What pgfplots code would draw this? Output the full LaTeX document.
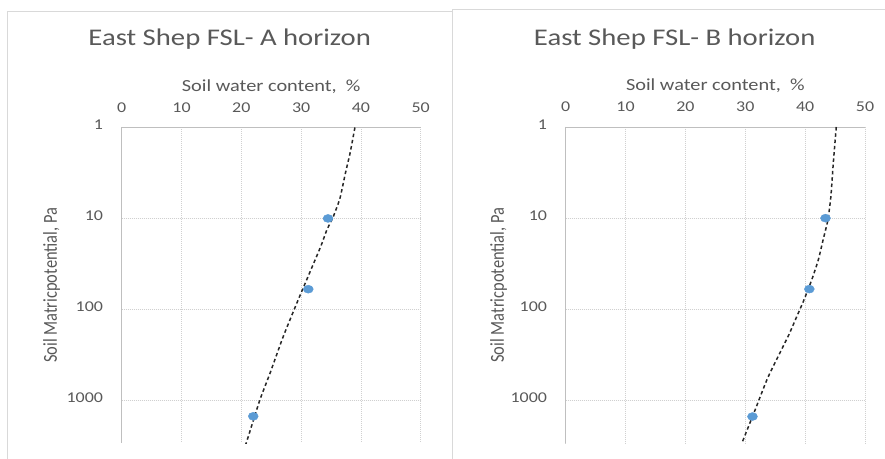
\documentclass[border=0pt]{standalone}
\usepackage{pgfplots}
\pgfplotsset{compat=1.18}
\usepackage{fontspec}
\setmainfont{Carlito}
\newfontfamily\wide{Carlito}[FakeStretch=1.2]
\definecolor{txt}{HTML}{595959}
\definecolor{grd}{HTML}{D0D0D0}
\definecolor{axl}{HTML}{BFBFBF}
\definecolor{pt}{HTML}{5B9BD5}
\definecolor{frm}{HTML}{D9D9D9}
\begin{document}
\begin{tikzpicture}
\useasboundingbox (0bp,0bp) rectangle (885bp,459bp);
\fill[white] (0bp,0bp) rectangle (885bp,459bp);
\draw[frm, line width=0.8bp] (7bp,0bp) -- (7bp,448bp) -- (452.7bp,448bp);
\draw[frm, line width=0.8bp] (452.7bp,0bp) -- (452.7bp,449.7bp) -- (885bp,449.7bp);
\node[anchor=base, text=txt, font=\wide\fontsize{24}{29}\selectfont] at (229.7bp,413.3bp) {East Shep FSL- A horizon};
\node[anchor=base, text=txt, font=\wide\fontsize{24}{29}\selectfont] at (674.7bp,413.3bp) {East Shep FSL- B horizon};

\begin{axis}[at={(121.7bp,16bp)},
  scale only axis, width=299bp, height=315.5bp, anchor=south west,
  xmin=0, xmax=50, ymin=1, ymax=2950, ymode=log, y dir=reverse,
  axis x line*=top, axis y line*=left,
  axis line style={draw=axl, line width=0.8bp},
  xtick={0,10,20,30,40,50}, xticklabels={0,10,20,30,40,50},
  ytick={1,10,100,1000}, yticklabels={1,10,100,1000},
  major tick length=0pt, minor tick length=0pt,
  grid=major,
  major grid style={draw=grd, line width=0.8bp, dash pattern=on 1bp off 1bp},
  tick label style={font=\wide\fontsize{15}{18}\selectfont, text=txt},
  xticklabel style={anchor=base, yshift=15bp, inner sep=0pt},
  yticklabel style={anchor=mid east, inner sep=0pt, xshift=-18.5bp},
  xlabel={Soil water content,~~\%},
  xlabel style={at={(axis description cs:0.5,1)}, anchor=base, yshift=36bp,
    font=\wide\fontsize{17}{20}\selectfont, text=txt, inner sep=0pt},
  ylabel={Soil Matricpotential, Pa},
  ylabel style={at={(axis description cs:-0.217,0.5)}, anchor=base, yscale=1.2,
    font=\fontsize{16.5}{19}\selectfont, text=txt, inner sep=0pt}]
\addplot[only marks, mark=*, mark size=4bp, mark options={xscale=1.25, fill=pt, draw=pt}] coordinates {(34.5,10) (31.2,60) (22.0,1500)};
\addplot[black!85, line width=1.5bp, dash pattern=on 3.5bp off 2.8bp, smooth, tension=0.3, mark=none] coordinates {(39.0,1) (38.2,1.9) (37.4,3.2) (36.5,6.0) (35.4,9.5) (34.3,13.4) (33.2,21) (29.5,79) (27.0,200) (24.8,505) (23.1,993) (20.9,2852) (20.8,2950)};
\end{axis}

\begin{axis}[at={(565.7bp,15.7bp)},
  scale only axis, width=299.3bp, height=316.3bp, anchor=south west,
  xmin=0, xmax=50, ymin=1, ymax=2950, ymode=log, y dir=reverse,
  axis x line*=top, axis y line*=left,
  axis line style={draw=axl, line width=0.8bp},
  xtick={0,10,20,30,40,50}, xticklabels={0,10,20,30,40,50},
  ytick={1,10,100,1000}, yticklabels={1,10,100,1000},
  major tick length=0pt, minor tick length=0pt,
  grid=major,
  major grid style={draw=grd, line width=0.8bp, dash pattern=on 1bp off 1bp},
  tick label style={font=\wide\fontsize{15}{18}\selectfont, text=txt},
  xticklabel style={anchor=base, yshift=15bp, inner sep=0pt},
  yticklabel style={anchor=mid east, inner sep=0pt, xshift=-18.5bp},
  xlabel={Soil water content,~~\%},
  xlabel style={at={(axis description cs:0.5,1)}, anchor=base, yshift=36bp,
    font=\wide\fontsize{17}{20}\selectfont, text=txt, inner sep=0pt},
  ylabel={Soil Matricpotential, Pa},
  ylabel style={at={(axis description cs:-0.207,0.5)}, anchor=base, yscale=1.2,
    font=\fontsize{16.5}{19}\selectfont, text=txt, inner sep=0pt}]
\addplot[only marks, mark=*, mark size=4bp, mark options={xscale=1.25, fill=pt, draw=pt}] coordinates {(43.4,10) (40.7,60) (31.2,1500)};
\addplot[black!85, line width=1.5bp, dash pattern=on 3.5bp off 2.8bp, smooth, tension=0.3, mark=none] coordinates {(45.2,1) (44.7,2.5) (44.3,5.8) (43.8,10.5) (43.0,17.3) (42.2,28.7) (41.1,47.5) (39.7,82) (38.6,120) (37.2,195) (33.8,555) (31.6,1290) (29.4,2970)};
\end{axis}
\end{tikzpicture}
\end{document}
